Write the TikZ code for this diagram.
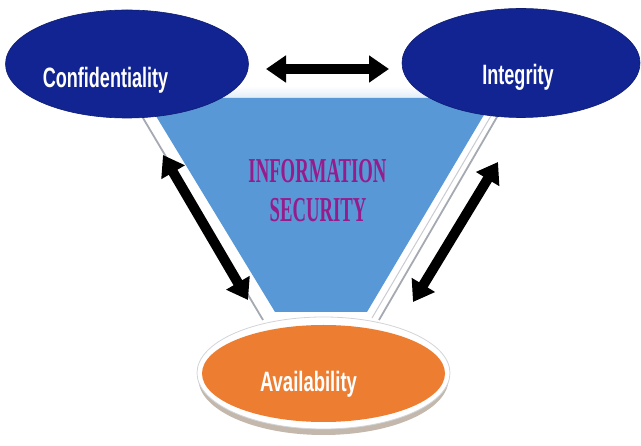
\documentclass[tikz,border=0pt]{standalone}
\usepackage{fontspec}
\usepackage{graphicx}
\usetikzlibrary{shapes.geometric,arrows.meta}
\newfontfamily\labelfont{Liberation Sans}
\newfontfamily\titlefont{Liberation Serif}
\definecolor{navy}{RGB}{18,36,145}
\definecolor{skyfill}{RGB}{88,152,214}
\definecolor{orangefill}{RGB}{237,125,49}
\definecolor{titlepurple}{RGB}{150,28,140}
\definecolor{rimgray}{RGB}{165,170,178}
\definecolor{shadowtan}{RGB}{196,184,172}
\tikzset{
  pillar/.style={ellipse, inner sep=0pt, fill=navy, draw=navy!80!black, line width=0.6pt},
  basedisc/.style={ellipse, inner sep=0pt, fill=orangefill},
  pillarlabel/.style={inner sep=0pt, text=white, anchor=base,
    font=\labelfont\bfseries\fontsize{28}{30}\selectfont},
  twoway/.style={line width=10pt, black,
    {Triangle[length=20pt,width=26pt]}-{Triangle[length=20pt,width=26pt]}},
  titletext/.style={inner sep=0pt, text=titlepurple, anchor=base,
    font=\titlefont\bfseries\fontsize{35}{37}\selectfont}
}
\begin{document}
\begin{tikzpicture}[x=1pt,y=-1pt]
  \useasboundingbox[fill=white] (0,0) rectangle (641,446);

  % bevelled frame round the funnel
  \fill[white] (124,86) -- (515,86) -- (379,320) -- (263,320) -- cycle;
  \shade[top color=white, bottom color=skyfill!18] (130,86) -- (510,86) -- (502,98) -- (138,98) -- cycle;
  \draw[rimgray, line width=1.8pt] (124,86) -- (263,320);
  \draw[rimgray, line width=1.8pt] (515,86) -- (379,320);
  \draw[rimgray!60, line width=1pt] (505,92) -- (372,318);
  % funnel face
  \fill[skyfill] (145,98) -- (494,98) -- (367,312) -- (275,312) -- cycle;

  % base disc under Availability
  \fill[shadowtan] (323.5,379) ellipse [x radius=125, y radius=56];
  \fill[white] (323.5,373) ellipse [x radius=126.5, y radius=56];
  \draw[rimgray!50, line width=0.8pt] (323.5,373) ellipse [x radius=126.5, y radius=56];

  % the three pillars
  \node[pillar, minimum width=243pt, minimum height=108pt] (conf) at (127,64) {};
  \node[pillar, minimum width=238pt, minimum height=109pt] (integ) at (521,63) {};
  \node[basedisc, minimum width=243pt, minimum height=97pt] (avail) at (323.5,373.5) {};

  \node[pillarlabel] (conftext) at (105.5,88) {\scalebox{0.645}[1]{Confidentiality}};
  \node[pillarlabel] (integtext) at (518,85) {\scalebox{0.645}[1]{Integrity}};
  \node[pillarlabel] (availtext) at (308.5,392) {\scalebox{0.66}[1]{Availability}};

  % centre title
  \node[titletext] (title1) at (317.5,183) {\scalebox{0.535}[1]{INFORMATION}};
  \node[titletext] (title2) at (318,222) {\scalebox{0.535}[1]{SECURITY}};

  % two-way links between the pillars
  \coordinate (ci1) at (266,69);
  \coordinate (ci2) at (389,69);
  \coordinate (ca1) at (163,155);
  \coordinate (ca2) at (248,300);
  \coordinate (ia1) at (498,162);
  \coordinate (ia2) at (413,302);
  \draw[twoway] (ci1) -- (ci2);
  \draw[twoway] (ca1) -- (ca2);
  \draw[twoway] (ia1) -- (ia2);
\end{tikzpicture}
\end{document}
